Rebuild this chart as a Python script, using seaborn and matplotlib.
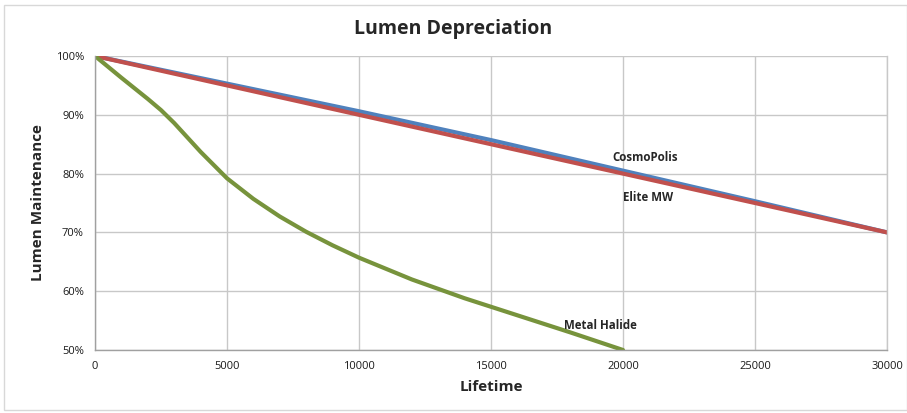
import matplotlib
matplotlib.use("Agg")
import matplotlib.pyplot as plt
import seaborn as sns
import pandas as pd
from matplotlib.patches import Rectangle
from matplotlib.ticker import FuncFormatter

sns.set_style("white")
plt.rcParams['font.family'] = ['Open Sans', 'DejaVu Sans']

# Data
cosmo_x = [0, 5000, 10000, 15000, 20000, 25000, 30000]
cosmo_y = [100, 95.3, 90.6, 85.7, 80.5, 75.3, 70]
elite_x = [0, 30000]
elite_y = [100, 70]
mh_x = [0, 1000, 2000, 2500, 3000, 4000, 5000, 6000, 7000, 8000, 9000, 10000,
        12000, 14000, 16000, 18000, 20000]
mh_y = [100, 96.3, 92.7, 90.8, 88.6, 83.7, 79.2, 75.7, 72.7, 70.1, 67.8, 65.7,
        62.0, 58.8, 55.9, 53.0, 50]

x_ticks = [0, 5000, 10000, 15000, 20000, 25000, 30000]
y_ticks = [50, 60, 70, 80, 90, 100]

df = pd.concat([
    pd.DataFrame({"Lifetime": cosmo_x, "Value": cosmo_y, "Series": "CosmoPolis"}),
    pd.DataFrame({"Lifetime": elite_x, "Value": elite_y, "Series": "Elite MW"}),
    pd.DataFrame({"Lifetime": mh_x, "Value": mh_y, "Series": "Metal Halide"}),
])
palette = {"CosmoPolis": "#4F81BD", "Elite MW": "#C0504D", "Metal Halide": "#77933C"}

fig = plt.figure(figsize=(9.07, 4.13), dpi=100)
ax = fig.add_axes([95/907, 1-350/413, (887-95)/907, (350-56)/413])

sns.lineplot(data=df, x="Lifetime", y="Value", hue="Series", palette=palette,
             linewidth=3.0, ax=ax, legend=False, sort=False)
for ln in ax.lines:
    ln.set_solid_joinstyle("round")

ax.set_xlim(0, 30000)
ax.set_ylim(50, 100)
ax.set_xticks(x_ticks)
ax.set_yticks(y_ticks)
ax.yaxis.set_major_formatter(FuncFormatter(lambda v, p: f"{int(v)}%"))
ax.grid(True, color="#C8C8C8", linewidth=1.0)
ax.set_axisbelow(True)
ax.spines["top"].set_visible(False)
ax.spines["right"].set_color("#C8C8C8")
ax.spines["right"].set_linewidth(1.0)
for s in ["left", "bottom"]:
    ax.spines[s].set_color("#A0A0A0")
    ax.spines[s].set_linewidth(1.0)
ax.tick_params(axis="both", labelsize=8, length=0, pad=8, colors="#1a1a1a")

ax.set_xlabel("Lifetime", fontsize=11, fontweight="bold", labelpad=6)
ax.set_ylabel("Lumen Maintenance", fontsize=11, fontweight="bold", labelpad=8)
fig.text(0.5, 1-29/413, "Lumen Depreciation", ha="center", va="center",
         fontsize=14, fontweight="bold")

ax.text(20830, 82.8, "CosmoPolis", fontsize=8.3, fontweight="bold", ha="center", va="center")
ax.text(20950, 75.9, "Elite MW", fontsize=8.3, fontweight="bold", ha="center", va="center")
ax.text(19130, 54.1, "Metal Halide", fontsize=8.3, fontweight="bold", ha="center", va="center")

fig.patches.append(Rectangle((4/907, 1-410/413), 903/907, 405/413, transform=fig.transFigure,
                             fill=False, edgecolor="#D8D8D8", linewidth=1.0))

fig.savefig("out.png", dpi=100)
